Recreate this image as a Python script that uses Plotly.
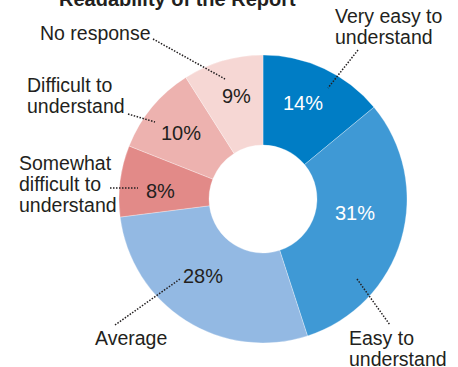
import plotly.graph_objects as go

# Survey responses: readability of the report
categories = [
    "Very easy to understand",
    "Easy to understand",
    "Average",
    "Somewhat difficult to understand",
    "Difficult to understand",
    "No response",
]
shares = [14, 31, 28, 8, 10, 9]
slice_colors = ["#007DC5", "#3F99D5", "#93B9E3", "#E28A88", "#EDB2AF", "#F6D7D4"]
value_text_colors = ["#FFFFFF", "#FFFFFF", "#231F20", "#231F20", "#231F20", "#231F20"]

# Where each percentage sits inside its slice (canvas pixels, centre of text)
value_label_xy = [(303, 103), (355, 213), (203, 276), (160, 191), (181, 133), (236, 96)]

W, H = 458, 367
DARK = "#231F20"
FONT = "Liberation Sans, Arial, Helvetica, sans-serif"


def px(x):
    return x / W


def py(y):
    return 1 - y / H


fig = go.Figure(
    go.Pie(
        labels=categories,
        values=shares,
        sort=False,
        direction="clockwise",
        rotation=0,
        hole=0.375,
        marker=dict(colors=slice_colors, line=dict(color="#FFFFFF", width=0.3)),
        textinfo="none",
        showlegend=False,
        hoverinfo="label+percent",
        domain=dict(x=[px(119), px(407)], y=[py(343), py(55)]),
    )
)

annotations = []

# Percentage labels
for share, color, (x, y) in zip(shares, value_text_colors, value_label_xy):
    annotations.append(
        dict(
            text=f"{share}%",
            x=px(x),
            y=py(y),
            xref="paper",
            yref="paper",
            xanchor="center",
            yanchor="middle",
            showarrow=False,
            font=dict(family=FONT, size=20, color=color),
        )
    )


def add_lines(lines, left, first_baseline, size=19.5, step=21, bold=False, anchor="left"):
    for i, line in enumerate(lines):
        base = first_baseline + i * step
        annotations.append(
            dict(
                text=f"<b>{line}</b>" if bold else line,
                x=px(left),
                y=py(base - 0.36 * size),
                xref="paper",
                yref="paper",
                xanchor=anchor,
                yanchor="middle",
                showarrow=False,
                font=dict(family=FONT, size=size, color=DARK),
            )
        )


# Chart title (partly clipped at the top edge)
add_lines(["Readability of the Report"], 177.5, 6, size=20, bold=True, anchor="center")

# Category labels
add_lines(["Very easy to", "understand"], 333, 23)
add_lines(["No response"], 38, 40)
add_lines(["Difficult to", "understand"], 25, 92)
add_lines(["Somewhat", "difficult to", "understand"], 17, 170)
add_lines(["Average"], 93, 345)
add_lines(["Easy to", "understand"], 347, 345)

# Dotted leader lines from labels to slices
leaders = [
    ((153, 39), (225, 79)),
    ((358, 50), (328, 88)),
    ((128, 114), (155, 122)),
    ((110, 188), (138, 188)),
    ((115, 325), (180, 279)),
    ((357, 279), (390, 325)),
]
shapes = []
for (x0, y0), (x1, y1) in leaders:
    shapes.append(
        dict(
            type="line",
            xref="paper",
            yref="paper",
            x0=px(x0),
            y0=py(y0),
            x1=px(x1),
            y1=py(y1),
            line=dict(color=DARK, width=1.5, dash="1.5px,1.5px"),
            layer="above",
        )
    )

fig.update_layout(
    width=W,
    height=H,
    margin=dict(l=0, r=0, t=0, b=0),
    paper_bgcolor="#FFFFFF",
    plot_bgcolor="#FFFFFF",
    annotations=annotations,
    shapes=shapes,
)

fig.write_html("out.html")
